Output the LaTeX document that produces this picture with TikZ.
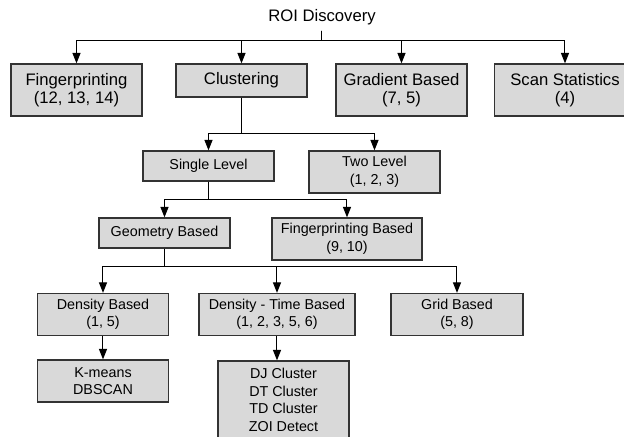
\documentclass[tikz,border=0pt]{standalone}
\usepackage{fontspec}
\setmainfont{Liberation Sans}
\usetikzlibrary{arrows.meta}

\begin{document}
\begin{tikzpicture}[x=0.6pt, y=-0.6pt,
            box/.style={draw=black!80, line width=0.8pt, fill=black!15, align=center, inner sep=2pt},
            big/.style={box, font=\fontsize{10}{11}\selectfont, minimum width=78.6pt},
            small/.style={box, font=\fontsize{8.6}{10.5}\selectfont, minimum width=78.6pt},
            arr/.style={-{Triangle[length=6.2pt,width=4.8pt]}, line width=0.6pt}]
            \useasboundingbox (0,0) rectangle (624,437);

            \node[font=\fontsize{10}{11}\selectfont] (roi) at (322,17) {ROI Discovery};

            \node[big, minimum height=31.2pt] (fp) at (76.5,90) {Fingerprinting\\(12, 13, 14)};
            \node[big, minimum height=19.8pt] (clu) at (241.5,80.5) {Clustering};
            \node[big, minimum height=31.2pt] (grad) at (401.5,90) {Gradient Based\\(7, 5)};
            \node[big, minimum height=31.2pt, minimum width=84.6pt] (scan) at (565,90) {Scan Statistics\\(4)};

            \node[small, minimum height=18pt] (single) at (208.5,166) {Single Level};
            \node[small, minimum height=25.2pt] (two) at (374.5,172) {Two Level\\(1, 2, 3)};

            \node[small, minimum height=18pt] (geom) at (164.5,233) {Geometry Based};
            \node[small, minimum height=25.2pt, minimum width=90pt] (fpb) at (347,239) {Fingerprinting Based\\(9, 10)};

            \node[small, minimum height=25.2pt] (dens) at (103,314.5) {Density Based\\(1, 5)};
            \node[small, minimum height=25.2pt, minimum width=93.6pt] (dt) at (277,314.5) {Density - Time Based\\(1, 2, 3, 5, 6)};
            \node[small, minimum height=25.2pt, minimum width=79.2pt] (grid) at (457,314.5) {Grid Based\\(5, 8)};

            \node[small, minimum height=25.2pt] (kmeans) at (103,381) {K-means\\DBSCAN};
            \node[small, minimum height=46.8pt] (djc) at (283.5,400) {DJ Cluster\\DT Cluster\\TD Cluster\\ZOI Detect};

            % bus lines
            \coordinate (b1) at (0,41);
            \coordinate (b2) at (0,134);
            \coordinate (b3) at (0,200);
            \coordinate (b4) at (0,267);

            \draw[arr] (roi.south) -- (roi.south |- b1) -| (fp.north);
            \draw[arr] (roi.south) -- (roi.south |- b1) -| (clu.north);
            \draw[arr] (roi.south) -- (roi.south |- b1) -| (grad.north);
            \draw[arr] (roi.south) -- (roi.south |- b1) -| (scan.north);

            \draw[arr] (clu.south) -- (clu.south |- b2) -| (single.north);
            \draw[arr] (clu.south) -- (clu.south |- b2) -| (two.north);

            \draw[arr] (single.south) -- (single.south |- b3) -| (geom.north);
            \draw[arr] (single.south) -- (single.south |- b3) -| (fpb.north);

            \draw[arr] (geom.south) -- (geom.south |- b4) -| (dens.north);
            \draw[arr] (geom.south) -- (geom.south |- b4) -| (dt.north);
            \draw[arr] (geom.south) -- (geom.south |- b4) -| (grid.north);

            \draw[arr] (dens.south) -- (kmeans.north);
            \draw[arr] (dt.south) -- (dt.south |- djc.north);
        \end{tikzpicture}
\end{document}
